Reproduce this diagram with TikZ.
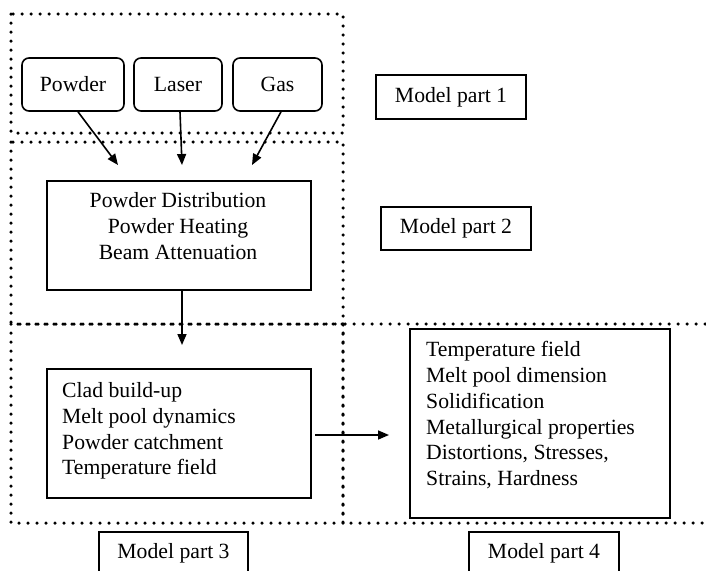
\documentclass[tikz,border=0pt]{standalone}
\usepackage{fontspec}
\setmainfont{Liberation Serif}
\usetikzlibrary{arrows.meta,calc}
\begin{document}
\begin{tikzpicture}[x=1pt,y=-1pt,
  every node/.style={font=\fontsize{21.7}{25.7}\selectfont},
  solidbox/.style={draw, line width=1.6pt, inner sep=0pt},
  srcbox/.style={solidbox, rounded corners=7pt},
  zone/.style={line width=3.5pt, dash pattern=on 0pt off 9pt, line cap=round},
  flow/.style={line width=1.6pt, -{Triangle[length=11pt,width=9pt]}},
  txt/.style={inner sep=0pt},
]
\useasboundingbox (0,0) rectangle (706,570);
\clip (0,0) rectangle (706,570);

% dotted model zones
\draw[zone] (11,14) rectangle (343,133);
\draw[zone] (11,142) rectangle (343,324);
\draw[zone] (11,324) rectangle (343,523);
\draw[zone] (343,324) rectangle (730,523);

% inputs
\node[srcbox, minimum width=102pt, minimum height=53pt] (powder) at (73,84.5) {Powder};
\node[srcbox, minimum width=88pt, minimum height=53pt] (laser) at (178,84.5) {Laser};
\node[srcbox, minimum width=89pt, minimum height=53pt] (gas) at (277.5,84.5) {Gas};

% process boxes
\node[solidbox, minimum width=264pt, minimum height=109pt] (dist) at (179,235.5) {};
\node[txt, anchor=north, align=center] (distlines) at (178,192.5)
  {Powder Distribution\\Powder Heating\\Beam Attenuation};

\node[solidbox, minimum width=264pt, minimum height=129pt] (clad) at (179,433.5) {};
\node[txt, anchor=north west, align=left] (cladlines) at (62,382.5)
  {Clad build-up\\Melt pool dynamics\\Powder catchment\\Temperature field};

\node[solidbox, minimum width=260pt, minimum height=189pt] (result) at (540,423.5) {};
\node[txt, anchor=north west, align=left] (resultlines) at (426,341.5)
  {Temperature field\\Melt pool dimension\\Solidification\\Metallurgical properties\\Distortions, Stresses,\\Strains, Hardness};

% part labels
\node[solidbox, minimum width=150pt, minimum height=44pt] (part1) at (451,97) {Model part 1};
\node[solidbox, minimum width=150pt, minimum height=43pt] (part2) at (456,228.5) {Model part 2};
\node[solidbox, minimum width=149pt, minimum height=43pt] (part3) at (173.5,553.5) {Model part 3};
\node[solidbox, minimum width=150pt, minimum height=43pt] (part4) at (544,553.5) {Model part 4};

% arrow ends
\coordinate (powderin) at (118,165);
\coordinate (laserin) at (182,165);
\coordinate (gasin) at (252,165);
\coordinate (cladin) at (182,345);
\coordinate (resultout) at (315,435);
\coordinate (resultin) at (389,435);

\draw[flow] ($(powder.south)+(5,0)$) -- (powderin);
\draw[flow] ($(laser.south)+(2,0)$) -- (laserin);
\draw[flow] ($(gas.south)+(3.5,0)$) -- (gasin);
\draw[flow] (dist.south -| cladin) -- (cladin);
\draw[flow] (resultout) -- (resultin);
\end{tikzpicture}
\end{document}
